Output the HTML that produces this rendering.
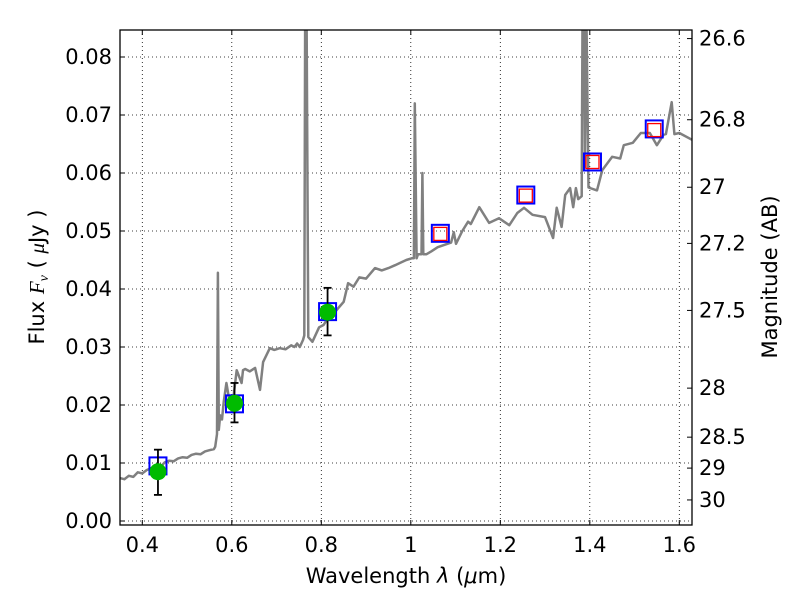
<!DOCTYPE html>
<html><head><meta charset="utf-8"><style>
html,body{margin:0;padding:0;background:#fff;}
svg{display:block;font-family:"DejaVu Sans","Liberation Sans",sans-serif;}
</style></head><body>
<svg id="chart" width="800" height="600" viewBox="0 0 800 600" xmlns="http://www.w3.org/2000/svg">
<rect width="800" height="600" fill="#fff"/>
<g id="grid"></g>
<g id="plot"></g>
<g id="axes"></g>
<text x="406" y="583" font-size="21" text-anchor="middle">Wavelength  <tspan font-style="italic">λ</tspan> (<tspan font-style="italic">μ</tspan>m)</text>
<text transform="translate(44,277) rotate(-90)" font-size="21" text-anchor="middle">Flux  <tspan font-family="Liberation Serif,serif" font-style="italic">F<tspan font-size="14" dy="4">ν</tspan></tspan><tspan dy="-4">  ( </tspan><tspan font-family="Liberation Serif,serif" font-style="italic">μ</tspan>Jy )</text>
<text transform="translate(777,277) rotate(-90)" font-size="21" text-anchor="middle">Magnitude (AB)</text>
</svg>
<script>
const xTicks=[0.4,0.6,0.8,1.0,1.2,1.4,1.6];
const xTickLabels=["0.4","0.6","0.8","1","1.2","1.4","1.6"];
const yTicks=[0,0.01,0.02,0.03,0.04,0.05,0.06,0.07,0.08];
const yTickLabels=["0.00","0.01","0.02","0.03","0.04","0.05","0.06","0.07","0.08"];
const magTicks=[26.6,26.8,27,27.2,27.5,28,28.5,29,30];
const magTickLabels=["26.6","26.8","27","27.2","27.5","28","28.5","29","30"];
const specWave=[0.35,0.36,0.37,0.38,0.39,0.40,0.41,0.42,0.43,0.44,0.45,0.46,0.47,0.48,0.49,0.50,0.51,0.52,0.53,0.54,0.55,0.56,0.563,0.567,0.569,0.571,0.574,0.578,0.582,0.588,0.595,0.6,0.611,0.622,0.625,0.63,0.64,0.652,0.663,0.67,0.685,0.695,0.707,0.72,0.733,0.74,0.746,0.752,0.759,0.762,0.764,0.767,0.771,0.78,0.795,0.805,0.817,0.825,0.84,0.85,0.86,0.872,0.885,0.9,0.92,0.935,0.95,0.965,0.976,0.99,1.002,1.007,1.009,1.013,1.016,1.024,1.026,1.028,1.035,1.046,1.06,1.09,1.096,1.101,1.115,1.128,1.134,1.153,1.175,1.197,1.22,1.238,1.253,1.272,1.3,1.318,1.326,1.337,1.345,1.356,1.363,1.369,1.374,1.382,1.384,1.387,1.389,1.392,1.397,1.416,1.428,1.45,1.468,1.476,1.496,1.514,1.534,1.55,1.565,1.57,1.583,1.589,1.6,1.629];
const specFlux=[0.0074,0.0072,0.0078,0.0076,0.0084,0.0082,0.0088,0.0091,0.0095,0.0093,0.0101,0.0104,0.0103,0.0108,0.011,0.0109,0.0114,0.0116,0.0115,0.012,0.0122,0.0124,0.0128,0.015,0.0428,0.0157,0.0182,0.0175,0.0205,0.0238,0.0205,0.019,0.026,0.0238,0.026,0.0262,0.0258,0.0264,0.0226,0.0274,0.0298,0.0295,0.0298,0.0296,0.0303,0.0300,0.0306,0.0300,0.0312,0.032,0.09,0.09,0.0317,0.0309,0.0334,0.0338,0.0352,0.0355,0.0369,0.0378,0.041,0.0404,0.042,0.0418,0.0436,0.0432,0.0436,0.0441,0.0445,0.0450,0.0453,0.0453,0.072,0.0453,0.046,0.046,0.060,0.046,0.046,0.0465,0.0472,0.048,0.0498,0.0478,0.050,0.0516,0.0512,0.0541,0.0514,0.0522,0.051,0.0531,0.054,0.0528,0.0524,0.0488,0.054,0.0507,0.0562,0.0574,0.0541,0.0574,0.0555,0.056,0.09,0.09,0.061,0.09,0.0575,0.057,0.0605,0.0628,0.0625,0.0648,0.0652,0.0669,0.0669,0.0648,0.0666,0.0667,0.0722,0.0667,0.0669,0.0657,0.0655];
const photWave=[0.435,0.606,0.814];
const photFlux=[0.0085,0.0203,0.036];
const photErrLo=[0.0045,0.017,0.032];
const photErrHi=[0.0123,0.0238,0.0402];
const modelWave=[0.435,0.606,0.814,1.066,1.257,1.406,1.544];
const modelFlux=[0.0095,0.0202,0.0361,0.0496,0.0562,0.0619,0.0676];
const redWave=[1.066,1.257,1.406,1.544];
const redFlux=[0.0495,0.0561,0.0619,0.0674];

const L=120,R=692,T=30,B=525;
const X=v=>142.3+(v-0.4)*447.5;
const Y=f=>521-f*5800;
const NS="http://www.w3.org/2000/svg";
function mk(tag,attrs,parent){const e=document.createElementNS(NS,tag);for(const k in attrs)e.setAttribute(k,attrs[k]);parent.appendChild(e);return e;}
const grid=document.getElementById('grid'),plot=document.getElementById('plot'),axes=document.getElementById('axes');

xTicks.forEach((v,i)=>{
  const g=mk('line',{x1:X(v),x2:X(v),y1:T,y2:B,stroke:'#000','stroke-width':0.8,'stroke-dasharray':'1,3'},grid);
  
  
  mk('line',{x1:X(v),x2:X(v),y1:B,y2:B-5,stroke:'#000','stroke-width':1},axes);
  mk('line',{x1:X(v),x2:X(v),y1:T,y2:T+5,stroke:'#000','stroke-width':1},axes);
  const t=mk('text',{x:X(v),y:B+27,'font-size':21,'text-anchor':'middle'},axes);
  t.textContent=xTickLabels[i];
  
  
});
yTicks.forEach((v,i)=>{
  const g=mk('line',{x1:L,x2:R,y1:Y(v),y2:Y(v),stroke:'#000','stroke-width':0.8,'stroke-dasharray':'1,3'},grid);
  
  
  mk('line',{x1:L,x2:L+5,y1:Y(v),y2:Y(v),stroke:'#000','stroke-width':1},axes);
  const t=mk('text',{x:L-8,y:Y(v)+7,'font-size':21,'text-anchor':'end'},axes);
  t.textContent=yTickLabels[i];
  
  
});
magTicks.forEach((m,i)=>{
  const f=Math.pow(10,(23.9-m)/2.5);
  mk('line',{x1:R,x2:R-5,y1:Y(f),y2:Y(f),stroke:'#000','stroke-width':1},axes);
  const t=mk('text',{x:R+7,y:Y(f)+7,'font-size':21,'text-anchor':'start'},axes);
  t.textContent=magTickLabels[i];
  
  
});

const clip=mk('clipPath',{id:'clp'},plot);
mk('rect',{x:L,y:T,width:R-L,height:B-T},clip);
const pg=mk('g',{'clip-path':'url(#clp)'},plot);
const d=specWave.map((w,i)=>(i?'L':'M')+X(w).toFixed(1)+','+Y(specFlux[i]).toFixed(1)).join('');
const sp=mk('path',{d:d,fill:'none',stroke:'#808080','stroke-width':2.5,'stroke-linejoin':'round'},pg);



modelWave.forEach((w,i)=>{
  const s=mk('rect',{x:X(w)-8.5,y:Y(modelFlux[i])-8.5,width:17,height:17,fill:'none',stroke:'#0000ff','stroke-width':2},pg);
  
  
});
redWave.forEach((w,i)=>{
  const s=mk('rect',{x:X(w)-6.5,y:Y(redFlux[i])-6.5,width:13,height:13,fill:'none',stroke:'#ff0000','stroke-width':1.3},pg);
  
  
});
photWave.forEach((w,i)=>{
  const x=X(w);
  const e=mk('g',{stroke:'#000','stroke-width':1.8},pg);
  
  
  mk('line',{x1:x,x2:x,y1:Y(photErrLo[i]),y2:Y(photErrHi[i])},e);
  mk('line',{x1:x-4,x2:x+4,y1:Y(photErrLo[i]),y2:Y(photErrLo[i])},e);
  mk('line',{x1:x-4,x2:x+4,y1:Y(photErrHi[i]),y2:Y(photErrHi[i])},e);
  const c=mk('circle',{cx:x,cy:Y(photFlux[i]),r:8.5,fill:'#00bb00'},pg);
  
  
});
const fr=mk('rect',{x:L,y:T,width:R-L,height:B-T,fill:'none',stroke:'#000','stroke-width':1.3},axes);


</script>
</body></html>
